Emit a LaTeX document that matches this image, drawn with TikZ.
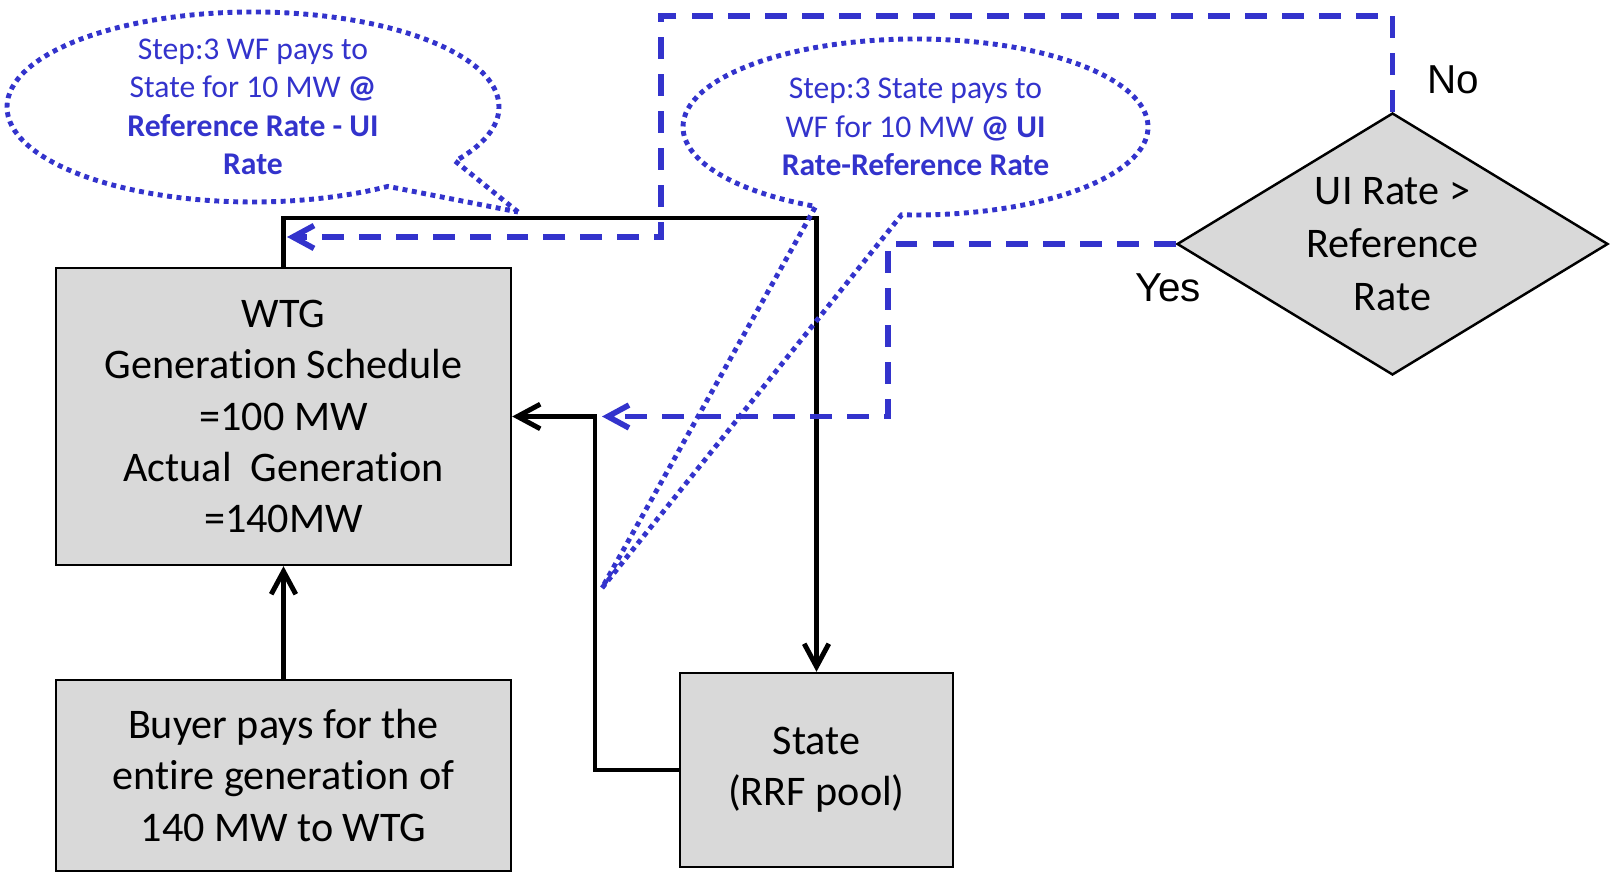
\documentclass[tikz,border=0pt]{standalone}
\usepackage{fontspec}
\setmainfont{Carlito}[Ligatures=NoCommon]
\newfontfamily\arialfont{Liberation Sans}
\usetikzlibrary{shapes.geometric,shapes.callouts,arrows.meta}
\definecolor{payblue}{RGB}{51,51,204}
\definecolor{boxgray}{RGB}{217,217,217}

\begin{document}
\begin{tikzpicture}[
    box/.style={rectangle, draw, line width=0.7pt, fill=boxgray, align=center,
        font=\fontsize{12}{14.6}\selectfont, inner sep=0pt},
    decision/.style={diamond, draw, line width=0.7pt, fill=boxgray, inner sep=0pt,
        minimum width=4.31cm, minimum height=2.62cm},
    note/.style={ellipse callout, draw=payblue, line width=1.4pt,
        dash pattern=on 1.4pt off 1.3pt, callout pointer arc=22, inner sep=0pt},
    notetext/.style={align=center, text=payblue, font=\fontsize{9}{10.9}\selectfont},
    flow/.style={line width=1.4pt, -{Straight Barb[length=6.5pt,width=7pt,line width=1.4pt]}},
    payline/.style={draw=payblue, line width=1.6pt, dash pattern=on 6.2pt off 4.3pt,
        -{Straight Barb[length=6pt,width=6.5pt,line width=1.6pt]}},
    answer/.style={font=\arialfont\fontsize{11.5}{13}\selectfont}
  ]
    \useasboundingbox (0,0) rectangle (16.14,8.72);

    % boxes
    \node[box, minimum width=4.55cm, minimum height=2.97cm] at (2.835, 4.555) (wtg)
        {WTG\\Generation Schedule\\=100 MW\\Actual\ \ Generation\\=140MW};
    \node[box, minimum width=4.55cm, minimum height=1.91cm] at (2.835, 0.965) (buyer)
        {Buyer pays for the\\entire generation of\\140 MW to WTG};
    \node[box, minimum width=2.73cm, minimum height=1.94cm] at (8.165, 1.02) (state)
        {State\\(RRF pool)};
    \node[decision, label={[align=center, font=\fontsize{12}{15}\selectfont]center:{UI Rate >\\Reference\\Rate}}]
        at (13.925, 6.28) (dec) {};

    % turning points
    \coordinate (topright) at (8.165, 6.54);
    \coordinate (midturn)  at (5.95, 4.555);
    \coordinate (noleft)   at (6.61, 8.56);
    \coordinate (notip)    at (2.87, 6.35);
    \coordinate (yescorner) at (8.88, 4.555);
    \coordinate (yestip)   at (6.02, 4.555);
    \coordinate (tipA)     at (5.18, 6.60);
    \coordinate (tipB)     at (6.02, 2.84);

    % money flows
    \draw[flow] (buyer.north) -- (wtg.south);
    \draw[flow] (wtg.north) |- (topright) -- (state.north);
    \draw[flow] (state.west) -| (midturn) -- (wtg.east);

    % decision branches
    \draw[payline] (dec.north) |- (noleft) |- (notip);
    \draw[payline] (dec.west) -| (yescorner) -- (yestip);
    \node[answer] at (14.53, 7.92) (no) {No};
    \node[answer] at (11.68, 5.84) (yes) {Yes};

    % notes
    \node[note, minimum width=4.92cm, minimum height=1.90cm, callout absolute pointer={(tipA)},
        label={[notetext]center:{Step:3 WF pays to\\State for 10 MW \textbf{@}\\\textbf{Reference Rate - UI}\\\textbf{Rate}}}]
        at (2.53, 7.65) (noteA) {};
    \node[note, minimum width=4.65cm, minimum height=1.76cm, callout absolute pointer={(tipB)},
        label={[notetext]center:{Step:3 State pays to\\WF for 10 MW \textbf{@ UI}\\\textbf{Rate-Reference Rate}}}]
        at (9.155, 7.45) (noteB) {};
\end{tikzpicture}
\end{document}
